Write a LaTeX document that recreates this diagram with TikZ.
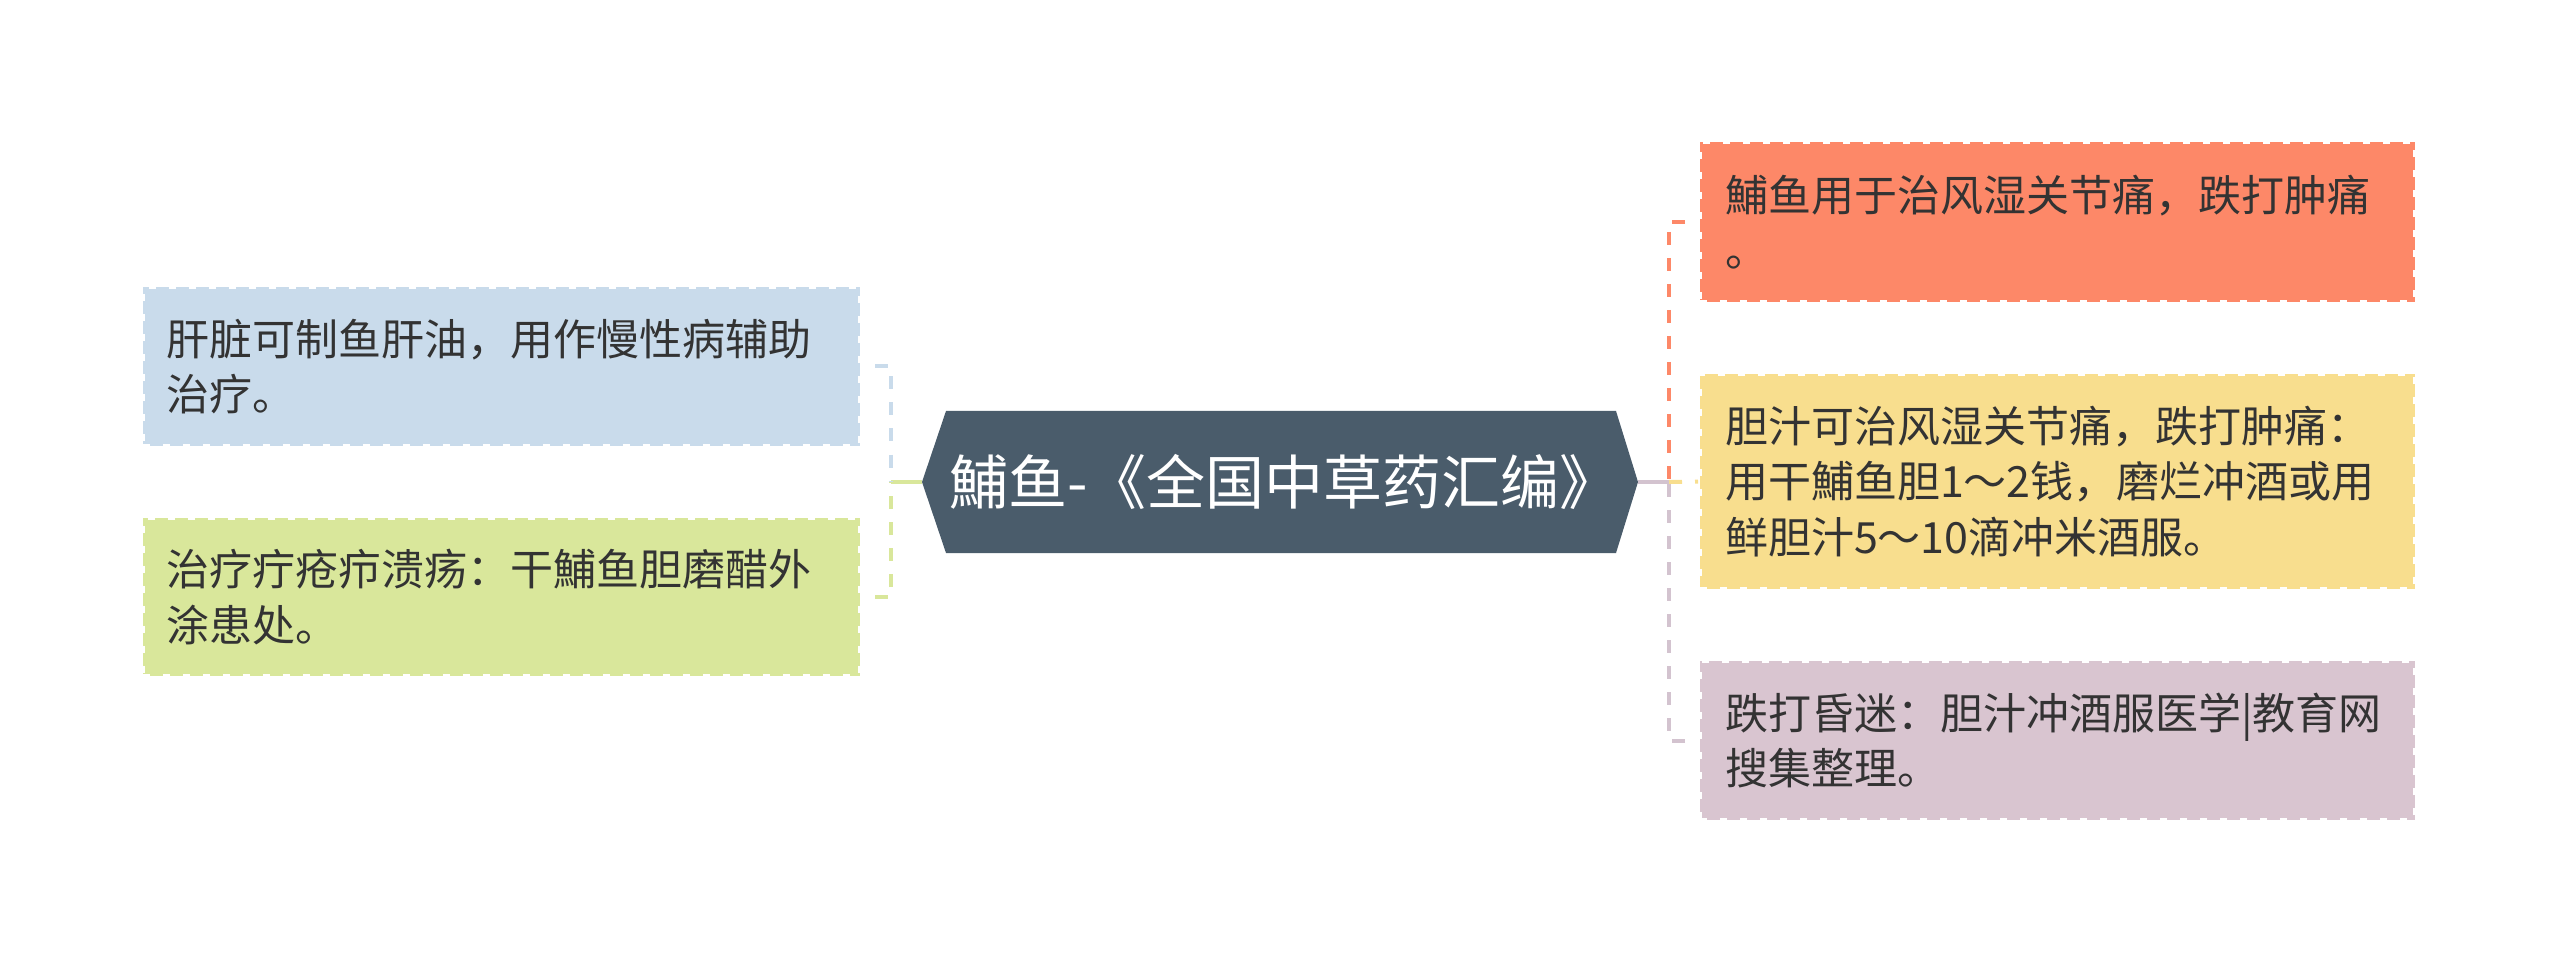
\documentclass[tikz,border=0pt]{standalone}
\usepackage{fontspec}
\setmainfont{Noto Sans CJK SC}
\definecolor{hub}{HTML}{4A5C6B}
\definecolor{cblue}{HTML}{C9DBEB}
\definecolor{cgreen}{HTML}{D9E79B}
\definecolor{corange}{HTML}{FD8868}
\definecolor{cyellow}{HTML}{F8DE8E}
\definecolor{cmauve}{HTML}{D9C5D0}
\definecolor{cline}{HTML}{D3C3CF}
\definecolor{txt}{HTML}{333333}
\begin{document}
\begin{tikzpicture}[x=1pt,y=-1pt,
  leaf/.style={rectangle, draw=white, line width=4pt, dash pattern=on 7pt off 13pt,
    text=txt, font=\fontsize{43}{55.5}\selectfont, align=left, inner ysep=0pt},
  leafL/.style={leaf, inner xsep=23pt, text width=671pt},
  leafR/.style={leaf, inner xsep=25pt, text width=665pt},
  link/.style={line width=4pt, dash pattern=on 13pt off 13pt},
  linkrev/.style={link, dash phase=13pt},
  trunk/.style={line width=4pt}
]
\useasboundingbox (0,0) rectangle (2560,965);

% central hexagon
\coordinate (cl) at (922,482);
\coordinate (cr) at (1638,482);
\fill[hub] (cl) -- (946,411) -- (1616,411) -- (cr) -- (1616,553) -- (946,553) -- cycle;
\node[text=white, font=\fontsize{59}{63}\selectfont, inner sep=0pt] (title) at (1284,482) {鯆鱼-《全国中草药汇编》};

% leaves
\node[leafL, fill=cblue, minimum height=159pt] (l1) at (501.5,366.5) {肝脏可制鱼肝油，用作慢性病辅助\\治疗。};
\node[leafL, fill=cgreen, minimum height=158pt] (l2) at (501.5,597) {治疗疔疮疖溃疡：干鯆鱼胆磨醋外\\涂患处。};
\node[leafR, fill=corange, minimum height=160pt] (r1) at (2057.5,222) {鯆鱼用于治风湿关节痛，跌打肿痛\\。};
\node[leafR, fill=cyellow, minimum height=215pt] (r2) at (2057.5,481.5) {胆汁可治风湿关节痛，跌打肿痛：\\用干鯆鱼胆1～2钱，磨烂冲酒或用\\鲜胆汁5～10滴冲米酒服。};
\node[leafR, fill=cmauve, minimum height=159pt] (r3) at (2057.5,740.5) {跌打昏迷：胆汁冲酒服医学|教育网\\搜集整理。};

% junctions
\coordinate (jl) at (891,482);
\coordinate (jr) at (1669,482);

% connectors left
\draw[trunk, cgreen] (cl) -- (jl);
\draw[linkrev, cblue] (l1.east) -| (jl);
\draw[linkrev, cgreen] (l2.east) -| (jl);

% connectors right
\draw[trunk, cline] (cr) -- (jr);
\draw[linkrev, corange] (r1.west) -| (jr);
\draw[link, cyellow] (jr) -- (r2.west);
\draw[linkrev, cline] (r3.west) -| (jr);
\end{tikzpicture}
\end{document}
